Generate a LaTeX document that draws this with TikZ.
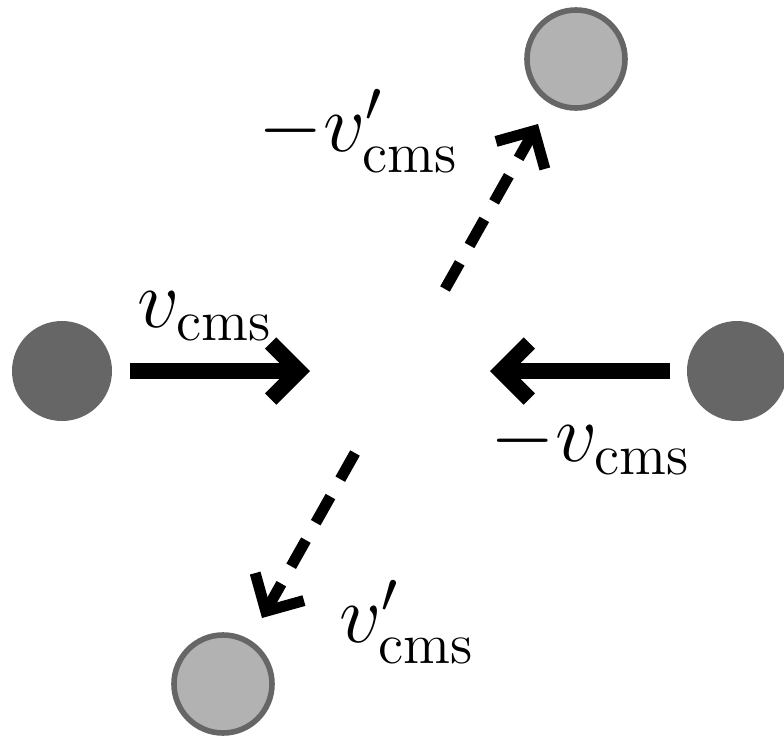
\documentclass[tikz,border=0pt]{standalone}
\usetikzlibrary{arrows.meta}
\begin{document}
\begin{tikzpicture}[x=0.25pt,y=-0.25pt,
  ball/.style={circle, fill=black!60, inner sep=0pt, minimum size=25pt},
  scattered/.style={circle, fill=black!30, draw=black!60, line width=1.4pt, inner sep=0pt, minimum size=24.5pt},
  inarrow/.style={line width=4pt, -{Straight Barb[length=7pt,width=14pt]}},
  outarrow/.style={line width=2.75pt, dash pattern=on 7.5pt off 5pt, -{Straight Barb[length=7pt,width=14pt]}}]
\fontsize{20}{24}\selectfont
\useasboundingbox (0,0) rectangle (784,741);

\node[ball] (left) at (62,371) {};
\node[ball] (right) at (737,371) {};
\node[scattered] (up) at (576,59) {};
\node[scattered] (down) at (223,684) {};

\coordinate (leftstart) at (130,371);
\coordinate (leftend) at (310,371);
\coordinate (rightstart) at (670,371);
\coordinate (rightend) at (490,371);
\coordinate (upstart) at (445,289);
\coordinate (upend) at (538,124);
\coordinate (downstart) at (355,453);
\coordinate (downend) at (262,618);

\path[draw,inarrow] (leftstart) -- (leftend);
\path[draw,inarrow] (rightstart) -- (rightend);
\path[draw,outarrow] (upstart) -- (upend);
\path[draw,outarrow] (downstart) -- (downend);

\node[inner sep=0pt] (vleft) at (205,316) {$v_{\rm cms}$};
\node[inner sep=0pt] (vright) at (591,444) {$-v_{\rm cms}$};
\node[inner sep=0pt] (vup) at (359,131) {$-v'_{\rm cms}$};
\node[inner sep=0pt] (vdown) at (407,622) {$v'_{\rm cms}$};
\end{tikzpicture}
\end{document}
